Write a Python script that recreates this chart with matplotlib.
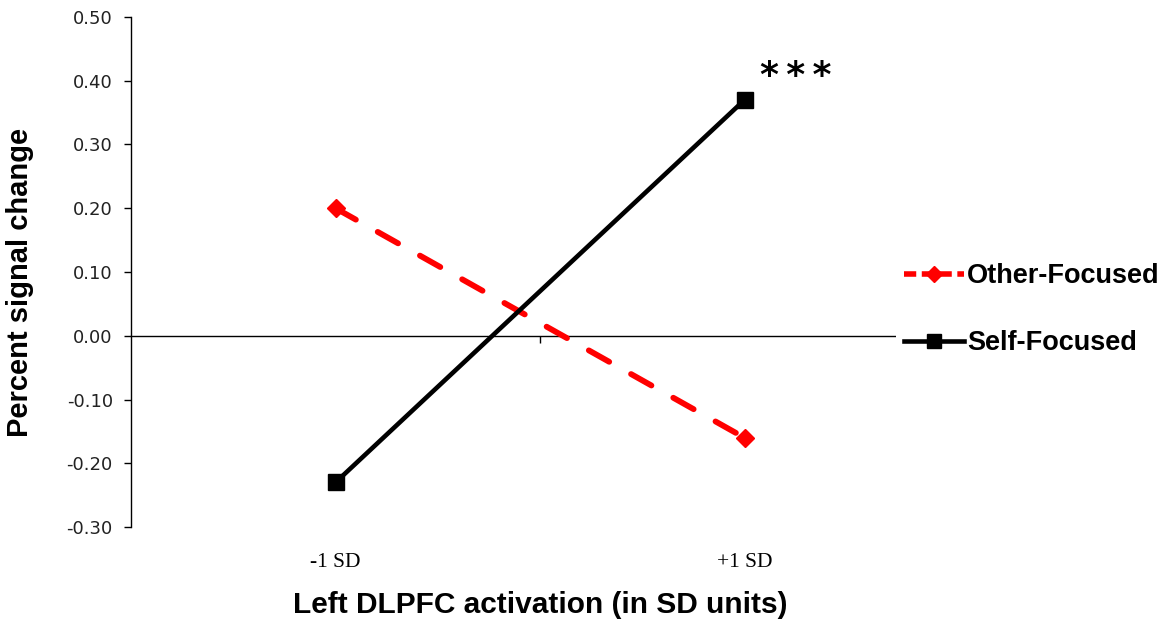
import matplotlib.pyplot as plt
from matplotlib.lines import Line2D

# ── Data ──────────────────────────────────────────────────────────────
categories = ["-1 SD", "+1 SD"]
other_focused = [0.20, -0.16]
self_focused = [-0.23, 0.37]
y_ticks = [-0.30, -0.20, -0.10, 0.00, 0.10, 0.20, 0.30, 0.40, 0.50]

C_RED = "#FF0000"
C_BLACK = "#000000"

plt.rcParams["font.family"] = ["Liberation Sans", "DejaVu Sans"]

fig = plt.figure(figsize=(11.69, 6.26), dpi=100)
ax = fig.add_axes([0.112, 0.158, 0.700, 0.815])

x = list(range(1, len(categories) + 1))

ax.plot(x, other_focused, color=C_RED, lw=4.2, ls=(0, (4.0, 4.3)),
        dash_capstyle="round", marker="D", ms=9, mfc=C_RED, mec=C_RED,
        label="Other-Focused", zorder=3)
ax.plot(x, self_focused, color=C_BLACK, lw=3.3, marker="s", ms=11,
        mfc=C_BLACK, mec=C_BLACK, label="Self-Focused", zorder=4)

ax.annotate("*\u2009*\u2009*", xy=(x[1], self_focused[1]), xytext=(11, 10),
            textcoords="offset points", fontsize=26, fontweight="bold",
            ha="left", va="baseline", family="DejaVu Sans")

# ── Axes styling (Excel look) ─────────────────────────────────────────
ax.set_xlim(0.5, len(categories) + 0.5)
ax.set_ylim(-0.30, 0.50)
ax.set_yticks(y_ticks)
ax.set_yticklabels([f"{v:.2f}" for v in y_ticks], family="DejaVu Sans",
                   fontsize=13, color="#222222")
ax.tick_params(axis="y", direction="out", length=5, width=1, pad=8)

ax.spines["top"].set_visible(False)
ax.spines["right"].set_visible(False)
ax.spines["left"].set_linewidth(1.0)
ax.spines["bottom"].set_position(("data", 0))
ax.spines["bottom"].set_linewidth(1.0)

ax.set_xticks(x)
ax.set_xticklabels([])
ax.tick_params(axis="x", which="major", length=0)
ax.set_xticks([1.5], minor=True)
ax.tick_params(axis="x", which="minor", direction="out", length=5, width=1)

sec = ax.secondary_xaxis("bottom")
sec.set_xticks(x)
sec.set_xticklabels(categories, family="Liberation Serif", fontsize=15.5)
sec.tick_params(length=0, pad=19)
sec.spines["bottom"].set_visible(False)

ax.set_ylabel("Percent signal change", fontsize=21, fontweight="bold")
ax.yaxis.set_label_coords(-0.118, 0.48)
fig.text(0.462, 0.033, "Left DLPFC activation (in SD units)", fontsize=21.5,
         fontweight="bold", ha="center", va="center")

handles = [
    Line2D([], [], color=C_RED, lw=4.0, ls=(0, (2.2, 1.0)), marker="D",
           ms=8, mfc=C_RED, mec=C_RED),
    Line2D([], [], color=C_BLACK, lw=3.3, marker="s", ms=10,
           mfc=C_BLACK, mec=C_BLACK),
]
leg = fig.legend(handles, ["Other-Focused", "Self-Focused"],
                 loc="center left", bbox_to_anchor=(0.755, 0.505),
                 frameon=True, facecolor="white", edgecolor="none",
                 framealpha=1, fancybox=False,
                 prop={"weight": "bold", "size": 19.5},
                 handlelength=2.2, handletextpad=0.12, labelspacing=1.52,
                 borderpad=0.3)
leg.set_zorder(10)

fig.savefig("out.png", dpi=100)
